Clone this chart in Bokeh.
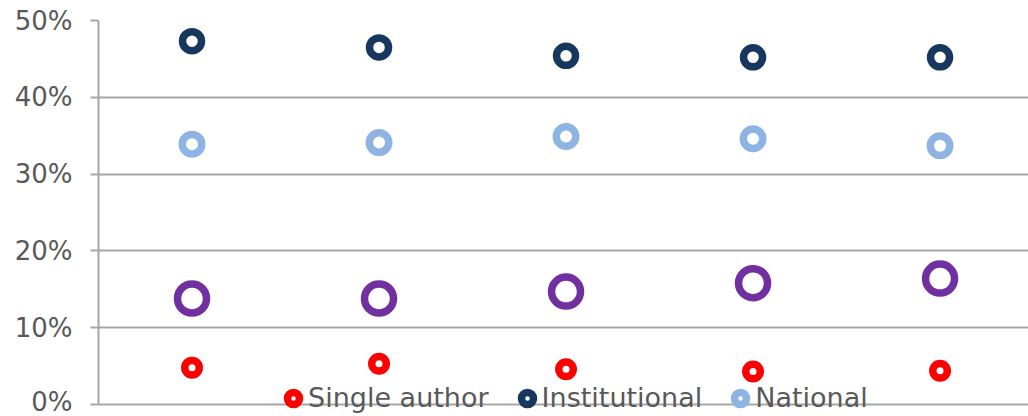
from bokeh.plotting import figure
from bokeh.models import Range1d, Legend, LegendItem, NumeralTickFormatter, FixedTicker, ColumnDataSource
from bokeh.embed import file_html
from bokeh.resources import INLINE

periods = ["P1", "P2", "P3", "P4", "P5"]
single_author = [0.048, 0.053, 0.046, 0.043, 0.044]
institutional = [0.473, 0.465, 0.454, 0.452, 0.452]
national = [0.339, 0.341, 0.349, 0.346, 0.337]
international = [0.138, 0.138, 0.147, 0.158, 0.164]
y_ticks = [0, 0.1, 0.2, 0.3, 0.4, 0.5]

xpos = [i + 0.5 for i in range(len(periods))]
src = ColumnDataSource(dict(x=xpos, periods=periods, single=single_author, inst=institutional,
                            nat=national, intl=international))

# frame runs to the bottom of the page; 0% sits 12px above it (page is cropped there)
p = figure(width=1028, height=416, output_backend="svg", toolbar_location=None,
           x_range=Range1d(0, 4.973), y_range=Range1d(-0.015625, 0.5),
           min_border_left=98, min_border_right=0, min_border_top=20, min_border_bottom=0)
p.outline_line_color = None
p.xaxis.visible = False
p.xgrid.visible = False
p.ygrid.grid_line_color = "#a6a6a6"
p.ygrid.grid_line_width = 2

ax = p.yaxis[0]
ax.bounds = (0, 0.5)
ax.ticker = FixedTicker(ticks=y_ticks)
ax.formatter = NumeralTickFormatter(format="0%")
ax.axis_line_color = "#a6a6a6"
ax.axis_line_width = 2
ax.major_tick_line_color = "#a6a6a6"
ax.major_tick_line_width = 2
ax.major_tick_out = 8
ax.major_tick_in = 0
ax.minor_tick_line_color = None
ax.major_label_standoff = 18
ax.major_label_text_font = "DejaVu Sans"
ax.major_label_text_font_size = "26px"
ax.major_label_text_color = "#595959"

lw = 7.5
r_intl = p.scatter("x", "intl", source=src, size=29, line_width=lw, line_color="#7030A0", fill_color="white")
r_nat = p.scatter("x", "nat", source=src, size=19.5, line_width=lw, line_color="#8EB4E3", fill_color="white")
r_inst = p.scatter("x", "inst", source=src, size=19, line_width=lw, line_color="#17375E", fill_color="white")
r_single = p.scatter("x", "single", source=src, size=14.5, line_width=lw, line_color="#FF0000", fill_color="white")

legend = Legend(items=[LegendItem(label="Single author", renderers=[r_single]),
                       LegendItem(label="Institutional", renderers=[r_inst]),
                       LegendItem(label="National", renderers=[r_nat])],
                orientation="horizontal", location=(180, 3), padding=0, margin=0,
                spacing=23, label_standoff=0, glyph_width=30, glyph_height=30,
                border_line_color=None, background_fill_alpha=0,
                label_text_font="DejaVu Sans", label_text_font_size="27px",
                label_text_color="#595959")
p.add_layout(legend, "center")

open("out.html", "w").write(file_html(p, INLINE))
